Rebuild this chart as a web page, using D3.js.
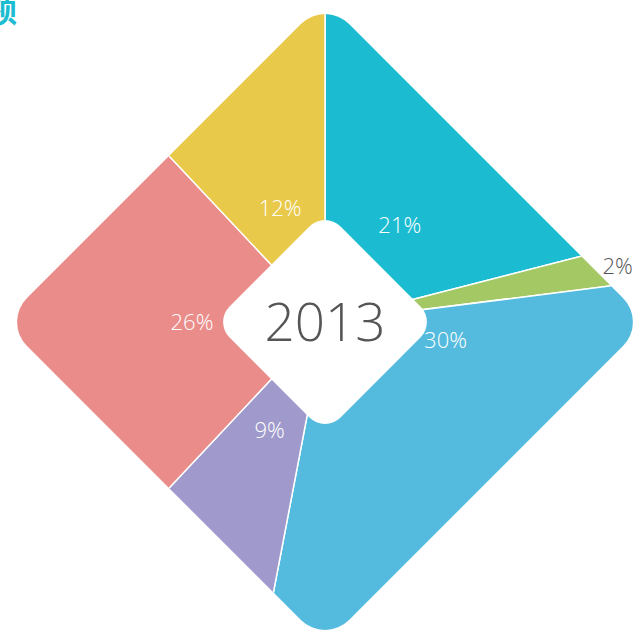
<!DOCTYPE html>
<html>
<head>
<meta charset="utf-8">
<script src="https://cdn.jsdelivr.net/npm/d3@7/dist/d3.min.js"></script>
<style>
  html, body { margin: 0; padding: 0; background: #fff; }
  svg { display: block; }
</style>
</head>
<body>
<svg id="chart" width="642" height="630"></svg>
<script>
  // chart data
  var categories = ["A", "B", "C", "D", "E", "F"];
  var values = [21, 2, 30, 9, 26, 12];
  var colors = ["#1bbcd1", "#a3c864", "#55bbde", "#a09acc", "#ea8c8a", "#e9c94a"];
  var year = "2013";
  var title = "销售额";

  var svg = d3.select("#chart"),
      cx = 325, cy = 322,
      outerD = 322,   // half diagonal of the outer diamond
      innerD = 111,   // half diagonal of the inner diamond
      outerR = 34,
      innerR = 22;

  var data = categories.map(function(c, i) { return {name: c, value: values[i], color: colors[i]}; });
  var total = d3.sum(values);

  var pie = d3.pie().sort(null).value(function(d) { return d.value; });
  var arcs = pie(data);

  var wedge = d3.arc().innerRadius(0).outerRadius(700);

  // rounded diamond = square rotated by 45deg
  function diamond(sel, d, r) {
    var side = d * Math.SQRT2;
    return sel.append("rect")
      .attr("x", -side / 2).attr("y", -side / 2)
      .attr("width", side).attr("height", side)
      .attr("rx", r).attr("ry", r)
      .attr("transform", "rotate(45)");
  }

  var defs = svg.append("defs");
  var clipG = defs.append("clipPath").attr("id", "outer");
  diamond(clipG, outerD, outerR);

  var g = svg.append("g").attr("transform", "translate(" + cx + "," + cy + ")");

  g.append("g")
    .attr("clip-path", "url(#outer)")
    .selectAll("path")
    .data(arcs)
    .enter().append("path")
    .attr("d", wedge)
    .attr("fill", function(d) { return d.data.color; })
    .attr("stroke", "#fff")
    .attr("stroke-width", 1.5);

  diamond(g, innerD, innerR).attr("fill", "#fff");

  g.append("text")
    .attr("text-anchor", "middle")
    .attr("dy", "0.35em")
    .attr("font-family", "Open Sans, Lato, sans-serif")
    .attr("font-weight", 300)
    .attr("font-size", 53)
    .attr("fill", "#555")
    .text(year);

  // percentage labels
  g.selectAll(".lbl")
    .data(arcs)
    .enter().append("text")
    .attr("class", "lbl")
    .attr("text-anchor", "middle")
    .attr("dy", "0.35em")
    .attr("font-family", "Open Sans, Lato, sans-serif")
    .attr("font-weight", 300)
    .attr("font-size", 22)
    .attr("fill", function(d) { return d.value / total < 0.05 ? "#555" : "#fff"; })
    .attr("transform", function(d) {
      var small = d.value / total < 0.05;
      var span = d.endAngle - d.startAngle;
      var a = (d.startAngle + d.endAngle) / 2;
      if (d.value === d3.max(values)) a = d.startAngle + 0.28;
      var r = small ? 298 : (span > 1.5 && span < 1.7 ? 133 : 122);
      return "translate(" + (Math.sin(a) * r) + "," + (-Math.cos(a) * r) + ")";
    })
    .text(function(d) { return Math.round(d.value / total * 100) + "%"; });

  // title, mostly cut off at the left edge
  svg.append("text")
    .attr("x", 17)
    .attr("y", 22)
    .attr("text-anchor", "end")
    .attr("font-family", "Noto Sans CJK SC, sans-serif")
    .attr("font-weight", "bold")
    .attr("font-size", 34)
    .attr("fill", "#1bbcd1")
    .text(title);
</script>
</body>
</html>
